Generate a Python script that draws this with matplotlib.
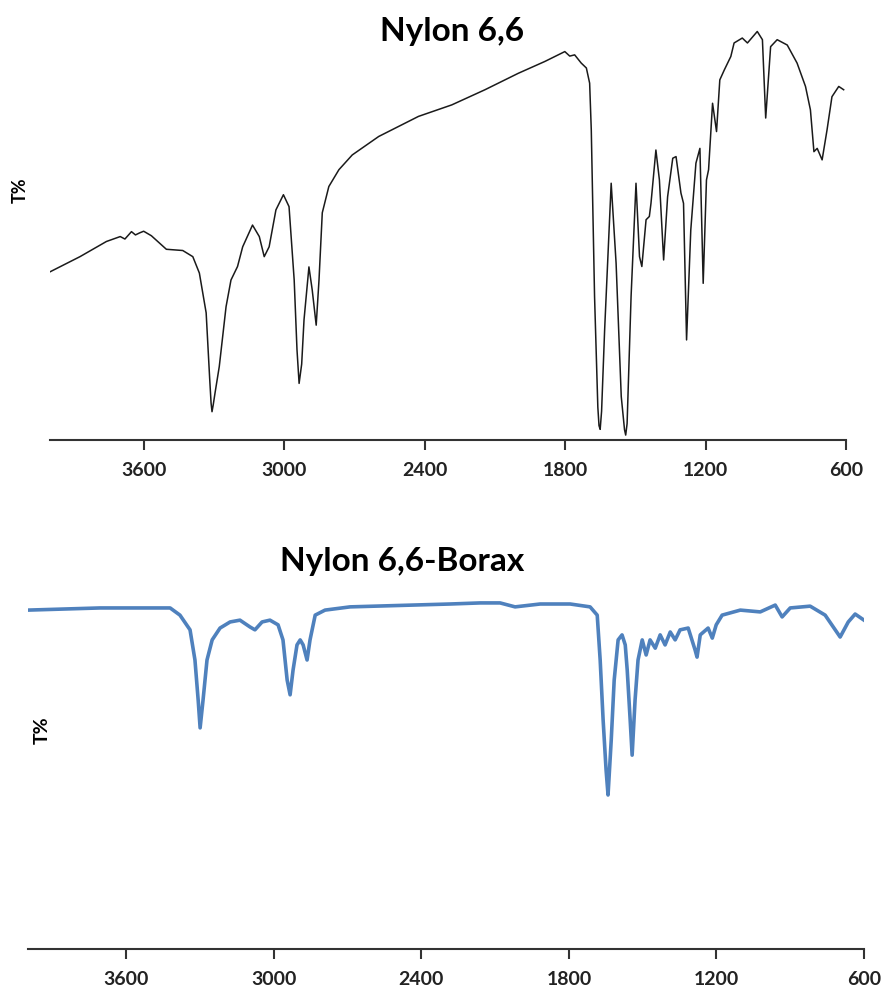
import matplotlib.pyplot as plt

plt.rcParams['font.family'] = ['Lato', 'DejaVu Sans']

# Nylon 6,6
wn_nylon = [4000, 3872, 3759, 3700, 3680, 3652, 3635, 3617, 3600, 3567, 3503, 3433, 3390, 3362, 3333,
            3318, 3312, 3308, 3303, 3295, 3277, 3248, 3227, 3199, 3177, 3135, 3106, 3085, 3064, 3035, 3003,
            2979, 2957, 2945, 2936, 2925, 2915, 2894, 2880, 2863, 2851, 2837, 2809, 2766, 2709,
            2596, 2426, 2284, 2142, 2000, 1886, 1801, 1780, 1759, 1731, 1709, 1695, 1688, 1674,
            1660, 1655, 1650, 1644, 1631, 1603, 1582, 1560, 1546, 1541, 1535, 1518, 1497, 1482, 1472, 1454,
            1440, 1433, 1412, 1397, 1379, 1362, 1340, 1326, 1305, 1294, 1281, 1263, 1241, 1224,
            1210, 1196, 1187, 1170, 1153, 1139, 1120, 1092, 1078, 1043, 1021, 979, 957, 943,
            922, 894, 851, 809, 773, 752, 737, 723, 702, 681, 660, 631, 610]
t_nylon = [41.0, 44.7, 48.4, 49.6, 49.0, 50.8, 50.0, 50.5, 50.9, 49.8, 46.5, 46.2, 44.7, 40.7, 31.0,
           15.0, 9.0, 6.9, 8.5, 11.5, 17.9, 32.5, 39.0, 42.3, 47.1, 52.4, 49.6, 44.7, 47.1, 56.1, 59.8,
           56.9, 39.0, 22.0, 13.8, 18.5, 29.3, 42.2, 36.6, 28.0, 39.0, 55.4, 61.8, 65.9, 69.5,
           74.0, 78.9, 81.7, 85.4, 89.4, 92.3, 94.7, 93.6, 93.9, 91.9, 90.7, 87.0, 75.6, 35.0,
           8.0, 3.5, 2.6, 7.0, 26.8, 62.6, 43.1, 10.6, 2.5, 1.2, 4.0, 35.0, 62.6, 44.7, 42.3, 53.7,
           54.5, 57.7, 70.7, 63.4, 43.9, 59.3, 68.7, 69.1, 60.2, 57.7, 24.4, 51.2, 67.5, 71.1,
           38.2, 63.4, 65.9, 82.1, 75.2, 87.8, 90.2, 93.5, 96.8, 98.0, 96.8, 99.6, 97.6, 78.5,
           95.9, 97.6, 96.3, 91.9, 86.2, 80.5, 70.3, 71.1, 68.3, 75.6, 83.7, 86.2, 85.4]

# Nylon 6,6-Borax
wn_borax = [4000, 3707, 3422, 3382, 3341, 3321, 3308, 3300, 3288, 3272, 3251, 3219, 3178, 3138,
            3097, 3077, 3048, 3016, 2983, 2963, 2946, 2934, 2922, 2906, 2893, 2881, 2865, 2853,
            2832, 2792, 2690, 2283, 2161, 2080, 2019, 1917, 1795, 1714, 1685, 1673, 1661, 1649,
            1641, 1628, 1616, 1600, 1584, 1571, 1563, 1551, 1543, 1531, 1519, 1502, 1486, 1470,
            1449, 1429, 1409, 1388, 1368, 1348, 1315, 1287, 1279, 1266, 1234, 1217, 1201, 1177,
            1103, 1022, 961, 933, 900, 819, 758, 717, 697, 664, 636, 600]
t_borax = [94.4, 95.0, 95.0, 93.0, 88.9, 80.5, 69.4, 61.6, 69.4, 80.5, 86.1, 89.4, 91.1, 91.6,
           89.7, 88.9, 91.1, 91.6, 90.3, 86.1, 74.9, 70.8, 77.7, 84.7, 86.1, 84.7, 80.5, 86.1,
           93.0, 94.4, 95.3, 96.1, 96.4, 96.4, 95.3, 96.1, 96.1, 95.3, 93.0, 80.5, 63.8, 49.9,
           42.9, 58.2, 74.9, 86.1, 87.5, 84.7, 77.7, 63.8, 54.0, 69.4, 80.5, 86.1, 81.9, 86.1,
           83.8, 87.5, 84.7, 88.3, 86.1, 88.9, 89.4, 83.3, 81.3, 87.5, 89.4, 86.6, 90.3, 93.0,
           94.4, 93.9, 95.8, 92.5, 95.0, 95.5, 93.0, 88.9, 86.9, 91.1, 93.3, 91.6]

ticks = [3600, 3000, 2400, 1800, 1200, 600]

fig = plt.figure(figsize=(8.86, 9.90), dpi=100)
ax1 = fig.add_axes([50/886, 1 - 440/990, 796/886, 420/990])
ax2 = fig.add_axes([28/886, 1 - 949/990, 836/886, 359/990])


def style(ax):
    ax.set_xlim(4000, 600)
    ax.set_xticks(ticks)
    ax.set_xticklabels([str(t) for t in ticks], fontweight='bold', fontsize=14, color='#222222')
    ax.set_yticks([])
    for s in ['top', 'left', 'right']:
        ax.spines[s].set_visible(False)
    ax.spines['bottom'].set_linewidth(1.5)
    ax.spines['bottom'].set_color('#333333')
    ax.tick_params(axis='x', direction='out', length=7, width=1.5, color='#333333', pad=9)


ax1.plot(wn_nylon, t_nylon, color='#1a1a1a', lw=1.1)
ax1.set_ylim(0, 102.4)
style(ax1)

ax2.plot(wn_borax, t_borax, color='#4F81BD', lw=2.6)
ax2.set_ylim(0, 100)
style(ax2)

fig.text(452/886, 1 - 31/990, 'Nylon 6,6', ha='center', va='center', fontsize=24, fontweight='bold')
fig.text(402/886, 1 - 562/990, 'Nylon 6,6-Borax', ha='center', va='center', fontsize=24, fontweight='bold')
fig.text(20/886, 1 - 190/990, 'T%', rotation=90, ha='center', va='center', fontsize=13, fontweight='bold')
fig.text(42/886, 1 - 730/990, 'T%', rotation=90, ha='center', va='center', fontsize=14, fontweight='bold')

fig.savefig('out.png', dpi=100)
